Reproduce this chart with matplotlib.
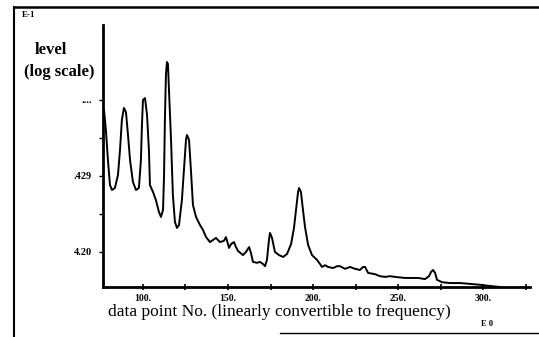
import matplotlib.pyplot as plt
from matplotlib.lines import Line2D

# spectrum trace: data point number vs level (log axis)
point_no = [77.1, 78.2, 79.4, 80.6, 81.8, 83.5, 85.3, 86.5, 87.6, 88.8,
            90.0, 91.2, 92.4, 94.1, 95.9, 97.6, 98.8, 99.4, 100.0, 101.2,
            102.4, 103.5, 104.1, 105.9, 107.6, 109.4, 110.6, 111.8, 112.4, 112.9,
            113.5, 114.1, 114.7, 115.3, 116.5, 117.6, 118.8, 120.0, 121.2, 122.9,
            124.1, 125.3, 125.9, 127.1, 128.2, 129.4, 131.2, 133.5, 135.3, 137.1,
            139.4, 141.2, 142.9, 145.3, 147.6, 148.8, 150.0, 150.6, 151.8, 153.5,
            154.7, 155.9, 158.8, 160.6, 162.4, 163.5, 164.7, 167.1, 168.8, 170.6,
            171.8, 172.9, 174.1, 174.7, 175.9, 177.6, 180.0, 182.4, 184.7, 187.1,
            188.8, 190.0, 191.2, 191.8, 192.9, 194.1, 195.3, 197.1, 199.4, 202.4,
            204.1, 205.3, 207.1, 208.8, 211.8, 214.1, 215.9, 218.8, 221.8, 224.7,
            227.6, 229.4, 230.6, 232.4, 236.5, 239.4, 242.4, 245.3, 248.2, 254.1,
            261.8, 265.9, 268.2, 269.4, 270.6, 271.8, 272.9, 275.9, 280.6, 286.5,
            292.4, 298.2, 304.1, 310.0]
level = [73.9, 40.3, 16.2, 7.61, 6.54, 6.95, 10.3, 22.0, 54.6, 78.5,
         69.5, 34.6, 16.2, 8.34, 6.54, 6.95, 16.2, 46.9, 100.0, 106.0,
         63.5, 22.0, 7.61, 6.16, 4.83, 3.36, 2.89, 3.57, 10.3, 54.6,
         213.0, 316.0, 298.0, 135.0, 29.8, 5.62, 2.48, 2.07, 2.27, 4.83,
         12.0, 29.8, 34.6, 29.8, 12.0, 4.15, 2.89, 2.27, 1.95, 1.57,
         1.35, 1.44, 1.53, 1.35, 1.40, 1.57, 1.27, 1.13, 1.27, 1.35,
         1.16, 1.03, 0.91, 1.0, 1.16, 0.97, 0.74, 0.72, 0.74, 0.695,
         0.65, 0.785, 1.44, 1.78, 1.53, 1.0, 0.91, 0.86, 0.94, 1.27,
         2.07, 3.57, 6.16, 6.95, 6.16, 3.57, 2.13, 1.24, 0.91, 0.785,
         0.695, 0.635, 0.67, 0.635, 0.615, 0.65, 0.65, 0.60, 0.635, 0.60,
         0.58, 0.635, 0.635, 0.53, 0.51, 0.48, 0.47, 0.48, 0.47, 0.455,
         0.455, 0.44, 0.48, 0.545, 0.58, 0.53, 0.43, 0.40, 0.39, 0.39,
         0.38, 0.37, 0.357, 0.346]

x_ticks = [100, 125, 150, 175, 200, 225, 250, 275, 300, 325]
x_labels = ['100.', '', '150.', '', '200.', '', '250.', '', '300.', '']
y_ticks = [1.0, 3.162, 10.0, 31.62, 100.0]
y_labels = ['4.20', '', '.429', '', '....']

serif = 'Liberation Serif'

fig = plt.figure(figsize=(5.39, 3.37), dpi=100)
ax = fig.add_axes([103 / 539, 1 - 287 / 337, 427 / 539, 262 / 337])

ax.plot(point_no, level, color='black', lw=1.4)

ax.set_yscale('log')
ax.set_xlim(76.5, 327.6)
ax.set_ylim(0.346, 970)
ax.minorticks_off()

ax.set_xticks(x_ticks)
ax.set_xticklabels(x_labels, fontsize=7, fontweight='bold', family=serif)
ax.set_yticks(y_ticks)
ax.set_yticklabels(y_labels, fontsize=7.5, fontweight='bold', family=serif)
ax.tick_params(axis='x', direction='inout', length=4, width=1.2, pad=3)
ax.tick_params(axis='y', direction='out', length=3, width=1, pad=5)

for s in ['top', 'right']:
    ax.spines[s].set_visible(False)
ax.spines['left'].set_linewidth(2)
ax.spines['bottom'].set_linewidth(2)

# axis titles placed on the figure
fig.text(279 / 539, 1 - 312 / 337,
         'data point No. (linearly convertible to frequency)',
         family=serif, fontsize=12.5, ha='center', va='center')
fig.text(51 / 539, 1 - 50 / 337, 'level', family=serif, fontsize=12,
         fontweight='bold', ha='center', va='center')
fig.text(59 / 539, 1 - 72 / 337, '(log scale)', family=serif, fontsize=12,
         fontweight='bold', ha='center', va='center')
fig.text(29 / 539, 1 - 15 / 337, 'E-1', family=serif, fontsize=6.5,
         fontweight='bold', ha='center', va='center')
fig.text(487 / 539, 1 - 324 / 337, 'E 0', family=serif, fontsize=6,
         fontweight='bold', ha='center', va='center')

# outer frame pieces
fig.add_artist(Line2D([14 / 539, 1.0], [1 - 7 / 337] * 2, color='black', lw=1.8))
fig.add_artist(Line2D([14 / 539] * 2, [0.0, 1 - 7 / 337], color='black', lw=1.5))
fig.add_artist(Line2D([280 / 539, 1.0], [1 - 333 / 337] * 2, color='black', lw=1.0))

fig.savefig('out.png', dpi=100)
